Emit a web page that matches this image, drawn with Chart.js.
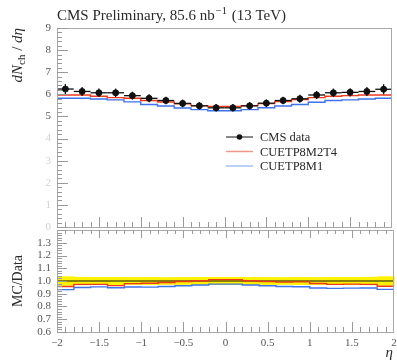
<!DOCTYPE html>
<html><head><meta charset="utf-8">
<script src="https://cdn.jsdelivr.net/npm/chart.js@4/dist/chart.umd.min.js"></script>
<style>
html,body{margin:0;padding:0;background:#fff;}
#wrap{position:relative;width:397px;height:364px;overflow:hidden;}
canvas{position:absolute;left:0;}
#c1{top:0;width:397px;height:232px;}
#c2{top:220px;width:397px;height:144px;}
</style></head><body>
<div id="wrap"><canvas id="c1" width="397" height="232"></canvas><canvas id="c2" width="397" height="144"></canvas></div>
<script>
// ---- data ----
const etaEdges = [-2,-1.8,-1.6,-1.4,-1.2,-1,-0.8,-0.6,-0.4,-0.2,0,0.2,0.4,0.6,0.8,1,1.2,1.4,1.6,1.8,2];
const cmsData  = [6.24,6.13,6.07,6.07,5.94,5.82,5.72,5.59,5.48,5.39,5.39,5.48,5.60,5.72,5.80,5.97,6.07,6.09,6.13,6.23];
const cmsErr   = [0.23,0.20,0.19,0.19,0.18,0.18,0.17,0.17,0.17,0.17,0.17,0.17,0.17,0.17,0.18,0.18,0.19,0.19,0.20,0.23];
const cuetp8m2t4 = [5.97,5.97,5.91,5.85,5.82,5.72,5.65,5.57,5.49,5.45,5.45,5.49,5.58,5.67,5.76,5.85,5.91,5.94,5.97,5.97];
const cuetp8m1   = [5.82,5.82,5.79,5.75,5.66,5.54,5.47,5.38,5.31,5.26,5.26,5.31,5.39,5.47,5.54,5.64,5.72,5.75,5.79,5.82];
const mainTickLabels  = ['0','1','2','3','4','5','6','7','8','9'];
const ratioTickLabels = ['0.6','0.7','0.8','0.9','1.0','1.1','1.2','1.3'];
const xTickLabels     = ['−2','−1.5','−1','−0.5','0','0.5','1','1.5','2'];
const seriesNames = ['CMS data','CUETP8M2T4','CUETP8M1'];

// ---- helpers ----
const SERIF = '"Liberation Serif","DejaVu Serif",serif';
const RED = '#ee3a1c', BLUE = '#3f72ee';
const FRAME = '#a8a8a8', TICK = '#9a9a9a', LABEL = '#555', TEXT = '#2a2a2a';
const centers = cmsData.map((_, i) => (etaEdges[i] + etaEdges[i + 1]) / 2);
function stepPts(vals) {
  return etaEdges.map((e, i) => ({ x: e, y: vals[Math.min(i, vals.length - 1)] }));
}
const ratio = (vals) => vals.map((v, i) => v / cmsData[i]);

function frame(ctx, a) {
  ctx.save(); ctx.strokeStyle = FRAME; ctx.lineWidth = 1;
  ctx.strokeRect(Math.round(a.left) + 0.5, Math.round(a.top) + 0.5, Math.round(a.right - a.left) - 1, Math.round(a.bottom - a.top));
  ctx.restore();
}
function hline(ctx, x0, x1, y) { ctx.beginPath(); ctx.moveTo(x0, y); ctx.lineTo(x1, y); ctx.stroke(); }
function vline(ctx, x, y0, y1) { ctx.beginPath(); ctx.moveTo(x, y0); ctx.lineTo(x, y1); ctx.stroke(); }

const baseOpts = (pad, ymin, ymax) => ({
  responsive: false, devicePixelRatio: 1, animation: false,
  layout: { padding: pad },
  plugins: { legend: { display: false }, tooltip: { enabled: false } },
  scales: {
    x: { type: 'linear', min: -2, max: 2, display: false },
    y: { type: 'linear', min: ymin, max: ymax, display: false }
  },
  elements: { point: { radius: 0 } }
});

// ---- main panel ----
const mainPlugin = {
  id: 'mainDeco',
  afterDatasetsDraw(chart) {
    const ctx = chart.ctx, xs = chart.scales.x, ys = chart.scales.y;
    ctx.save(); ctx.strokeStyle = '#111'; ctx.lineWidth = 1.3;
    cmsData.forEach((v, i) => {
      const xl = xs.getPixelForValue(etaEdges[i]), xr = xs.getPixelForValue(etaEdges[i + 1]);
      const xc = xs.getPixelForValue(centers[i]);
      hline(ctx, xl, xr, ys.getPixelForValue(v));
      vline(ctx, xc, ys.getPixelForValue(v - cmsErr[i]), ys.getPixelForValue(v + cmsErr[i]));
    });
    ctx.restore();
  },
  afterDraw(chart) {
    const ctx = chart.ctx, xs = chart.scales.x, ys = chart.scales.y, a = chart.chartArea;
    frame(ctx, a);
    ctx.save(); ctx.strokeStyle = TICK; ctx.lineWidth = 1;
    for (let k = 0; k <= 45; k++) {
      const y = Math.round(ys.getPixelForValue(k * 0.2)) + 0.5;
      hline(ctx, a.left, a.left + (k % 5 === 0 ? 11 : 5), y);
    }
    for (let k = -19; k <= 19; k++) {
      const x = Math.round(xs.getPixelForValue(k * 0.1)) + 0.5;
      vline(ctx, x, a.bottom, a.bottom - (k % 5 === 0 ? 10 : 5));
    }
    ctx.restore();
    ctx.save(); ctx.font = '11px ' + SERIF; ctx.textAlign = 'right'; ctx.textBaseline = 'middle';
    mainTickLabels.forEach((t) => {
      const v = parseFloat(t);
      ctx.fillStyle = v >= 5 ? LABEL : '#d2d2d2';
      ctx.fillText(t, 51, ys.getPixelForValue(v));
    });
    ctx.restore();
    // title
    ctx.save(); ctx.fillStyle = TEXT; ctx.textBaseline = 'alphabetic';
    let x = 57; const base = 20;
    ctx.font = '15px ' + SERIF;
    let s = 'CMS Preliminary, 85.6 nb'; ctx.fillText(s, x, base); x += ctx.measureText(s).width;
    ctx.font = '10.5px ' + SERIF; s = '−1'; ctx.fillText(s, x + 1, base - 6.5); x += ctx.measureText(s).width + 2;
    ctx.font = '15px ' + SERIF; ctx.fillText(' (13 TeV)', x, base);
    ctx.restore();
    // y title (rotated)
    ctx.save(); ctx.translate(22, 28); ctx.rotate(-Math.PI / 2); ctx.fillStyle = TEXT;
    ctx.textBaseline = 'alphabetic';
    const parts = [['italic 15px ' + SERIF, 'dN', 0], ['11px ' + SERIF, 'ch', 3], ['15px ' + SERIF, ' / ', 0], ['italic 15px ' + SERIF, 'dη', 0]];
    let tw = 0; parts.forEach(p => { ctx.font = p[0]; tw += ctx.measureText(p[1]).width; });
    let px = -tw;
    parts.forEach(p => { ctx.font = p[0]; ctx.fillText(p[1], px, p[2]); px += ctx.measureText(p[1]).width; });
    ctx.restore();
    // legend
    ctx.save(); ctx.font = '12.5px ' + SERIF; ctx.textBaseline = 'middle'; ctx.fillStyle = TEXT;
    const ly = [137, 151.5, 166], lcol = ['#111', '#f29488', '#a8bff2'];
    seriesNames.forEach((n, i) => {
      ctx.strokeStyle = lcol[i]; ctx.lineWidth = i === 0 ? 1 : 1.5;
      hline(ctx, 226, 253, ly[i]);
      if (i === 0) { ctx.beginPath(); ctx.arc(239.5, ly[i], 2.8, 0, Math.PI * 2); ctx.fillStyle = '#111'; ctx.fill(); ctx.fillStyle = TEXT; }
      ctx.fillText(n, 260, ly[i] + 1);
    });
    ctx.restore();
  }
};

new Chart(document.getElementById('c1'), {
  type: 'line',
  data: {
    datasets: [
      { label: seriesNames[0], type: 'scatter', data: centers.map((c, i) => ({ x: c, y: cmsData[i] })), showLine: false,
        pointRadius: 3, pointBackgroundColor: '#111', pointBorderColor: '#111', order: 0 },
      { label: seriesNames[1], data: stepPts(cuetp8m2t4), stepped: 'before', borderColor: RED, borderWidth: 1.4, fill: false, order: 1 },
      { label: seriesNames[2], data: stepPts(cuetp8m1), stepped: 'before', borderColor: BLUE, borderWidth: 1.4, fill: false, order: 2 }
    ]
  },
  options: baseOpts({ left: 57, right: 3, top: 28, bottom: 2 }, 0, 9),
  plugins: [mainPlugin]
});

// ---- ratio panel ----
const ratioPlugin = {
  id: 'ratioDeco',
  beforeDatasetsDraw(chart) {
    const ctx = chart.ctx, xs = chart.scales.x, ys = chart.scales.y;
    ctx.save(); ctx.fillStyle = '#fff200';
    cmsData.forEach((v, i) => {
      const r = cmsErr[i] / v;
      const x0 = xs.getPixelForValue(etaEdges[i]), x1 = xs.getPixelForValue(etaEdges[i + 1]);
      const y0 = ys.getPixelForValue(1 + r), y1 = ys.getPixelForValue(1 - r);
      ctx.fillRect(x0, y0, x1 - x0 + 0.5, y1 - y0);
    });
    ctx.restore();
  },
  afterDraw(chart) {
    const ctx = chart.ctx, xs = chart.scales.x, ys = chart.scales.y, a = chart.chartArea;
    frame(ctx, a);
    ctx.save(); ctx.strokeStyle = TICK; ctx.lineWidth = 1;
    for (let k = 30; k <= 70; k++) {
      const y = Math.round(ys.getPixelForValue(k * 0.02)) + 0.5;
      hline(ctx, a.left, a.left + (k % 5 === 0 ? 10 : 5), y);
    }
    for (let k = -19; k <= 19; k++) {
      const x = Math.round(xs.getPixelForValue(k * 0.1)) + 0.5;
      vline(ctx, x, a.top, a.top + (k % 5 === 0 ? 8 : 4));
      vline(ctx, x, a.bottom, a.bottom - (k % 5 === 0 ? 10 : 5));
    }
    ctx.restore();
    ctx.save(); ctx.font = '11px ' + SERIF; ctx.fillStyle = LABEL;
    ctx.textAlign = 'right'; ctx.textBaseline = 'middle';
    ratioTickLabels.forEach(t => ctx.fillText(t, 51, ys.getPixelForValue(parseFloat(t))));
    ctx.textAlign = 'center';
    xTickLabels.forEach(t => ctx.fillText(t, xs.getPixelForValue(parseFloat(t.replace('−', '-'))), a.bottom + 11));
    ctx.restore();
    ctx.save(); ctx.fillStyle = TEXT;
    ctx.font = 'italic 15px ' + SERIF; ctx.textAlign = 'right'; ctx.textBaseline = 'alphabetic';
    ctx.fillText('η', 393, 137);
    ctx.translate(22, (a.top + a.bottom) / 2); ctx.rotate(-Math.PI / 2);
    ctx.font = '14px ' + SERIF; ctx.textAlign = 'center'; ctx.fillText('MC/Data', 0, 0);
    ctx.restore();
  }
};

new Chart(document.getElementById('c2'), {
  type: 'line',
  data: {
    datasets: [
      { label: 'data', data: [{ x: -2, y: 1 }, { x: 2, y: 1 }], borderColor: '#111', borderWidth: 1, order: 3 },
      { label: seriesNames[1], data: stepPts(ratio(cuetp8m2t4)), stepped: 'before', borderColor: RED, borderWidth: 1.4, order: 1 },
      { label: seriesNames[2], data: stepPts(ratio(cuetp8m1)), stepped: 'before', borderColor: BLUE, borderWidth: 1.4, order: 2 }
    ]
  },
  options: baseOpts({ left: 57, right: 3, top: 10, bottom: 32 }, 0.6, 1.4),
  plugins: [ratioPlugin]
});
</script>
</body></html>
